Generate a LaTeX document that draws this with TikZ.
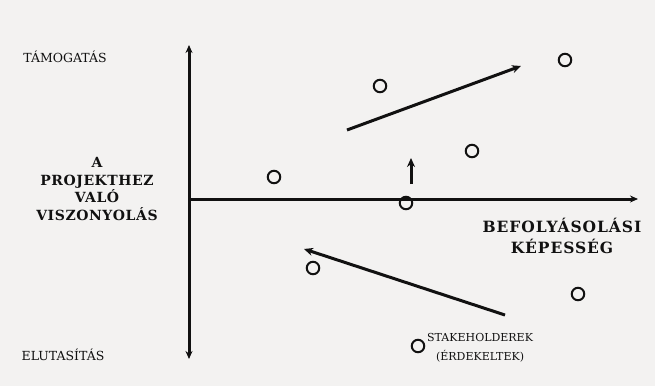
\documentclass[tikz,border=0pt]{standalone}
\usepackage{fontspec}
\setmainfont{DejaVu Serif}
\usetikzlibrary{arrows.meta}
\definecolor{smpaper}{HTML}{F3F2F1}
\definecolor{smink}  {HTML}{111111}
\tikzset{
  smaxis/.style={draw=smink, line width=3pt, -{Stealth[length=8pt,width=7pt]}},
  smmove/.style={draw=smink, line width=3pt, -{Stealth[length=9pt,width=8pt]}},
  smdot/.style={circle, draw=smink, line width=2pt, minimum size=12.5pt, inner sep=0pt},
  smlabel/.style={font=\fontsize{12.5}{19}\selectfont, text=smink, align=center, inner sep=0pt},
  smbold/.style={smlabel, font=\fontsize{14}{17.5}\selectfont\bfseries\addfontfeature{LetterSpace=4}}
}

\begin{document}
\begin{tikzpicture}[x=1pt, y=-1pt]
  \fill[smpaper] (0,0) rectangle (655,386);
  \useasboundingbox (0,0) rectangle (655,386);
  % axes
  \coordinate (origo) at (189,199);
  \coordinate (fent) at (189,45);
  \coordinate (lent) at (189,359);
  \coordinate (jobb) at (638,199);
  \draw[smaxis, {Stealth[length=8pt,width=7pt]}-{Stealth[length=8pt,width=7pt]}] (lent) -- (fent);
  \draw[smaxis] (origo) -- (jobb);
  % axis texts
  \node[smlabel] (tamog) at (65,57) {TÁMOGATÁS};
  \node[smlabel] (eluta) at (63,355) {ELUTASÍTÁS};
  \node[smbold] (viszony) at (97,189) {A\\PROJEKTHEZ\\VALÓ\\VISZONYOLÁS};
  \node[smbold, font=\fontsize{15.5}{21}\selectfont\bfseries\addfontfeature{LetterSpace=6}] (befoly) at (562,236) {BEFOLYÁSOLÁSI\\KÉPESSÉG};
  % stakeholders
  \node[smdot] (s1) at (565,60) {};
  \node[smdot] (s2) at (380,86) {};
  \node[smdot] (s3) at (472,151) {};
  \node[smdot] (s4) at (274,177) {};
  \node[smdot] (s5) at (406,203) {};
  \node[smdot] (s6) at (313,268) {};
  \node[smdot] (s7) at (578,294) {};
  \node[smdot] (s8) at (418,346) {};
  \node[smlabel, font=\fontsize{11}{19}\selectfont, anchor=west] (stake) at (427,348) {STAKEHOLDEREK\\(ÉRDEKELTEK)};
  % movements
  \coordinate (fel1) at (347,130);
  \coordinate (fel2) at (521,66);
  \coordinate (kis1) at (411,184);
  \coordinate (kis2) at (411,158);
  \coordinate (le1) at (505,315);
  \coordinate (le2) at (304,249);
  \draw[smmove] (fel1) -- (fel2);
  \draw[smmove] (kis1) -- (kis2);
  \draw[smmove] (le1) -- (le2);
\end{tikzpicture}
\end{document}
